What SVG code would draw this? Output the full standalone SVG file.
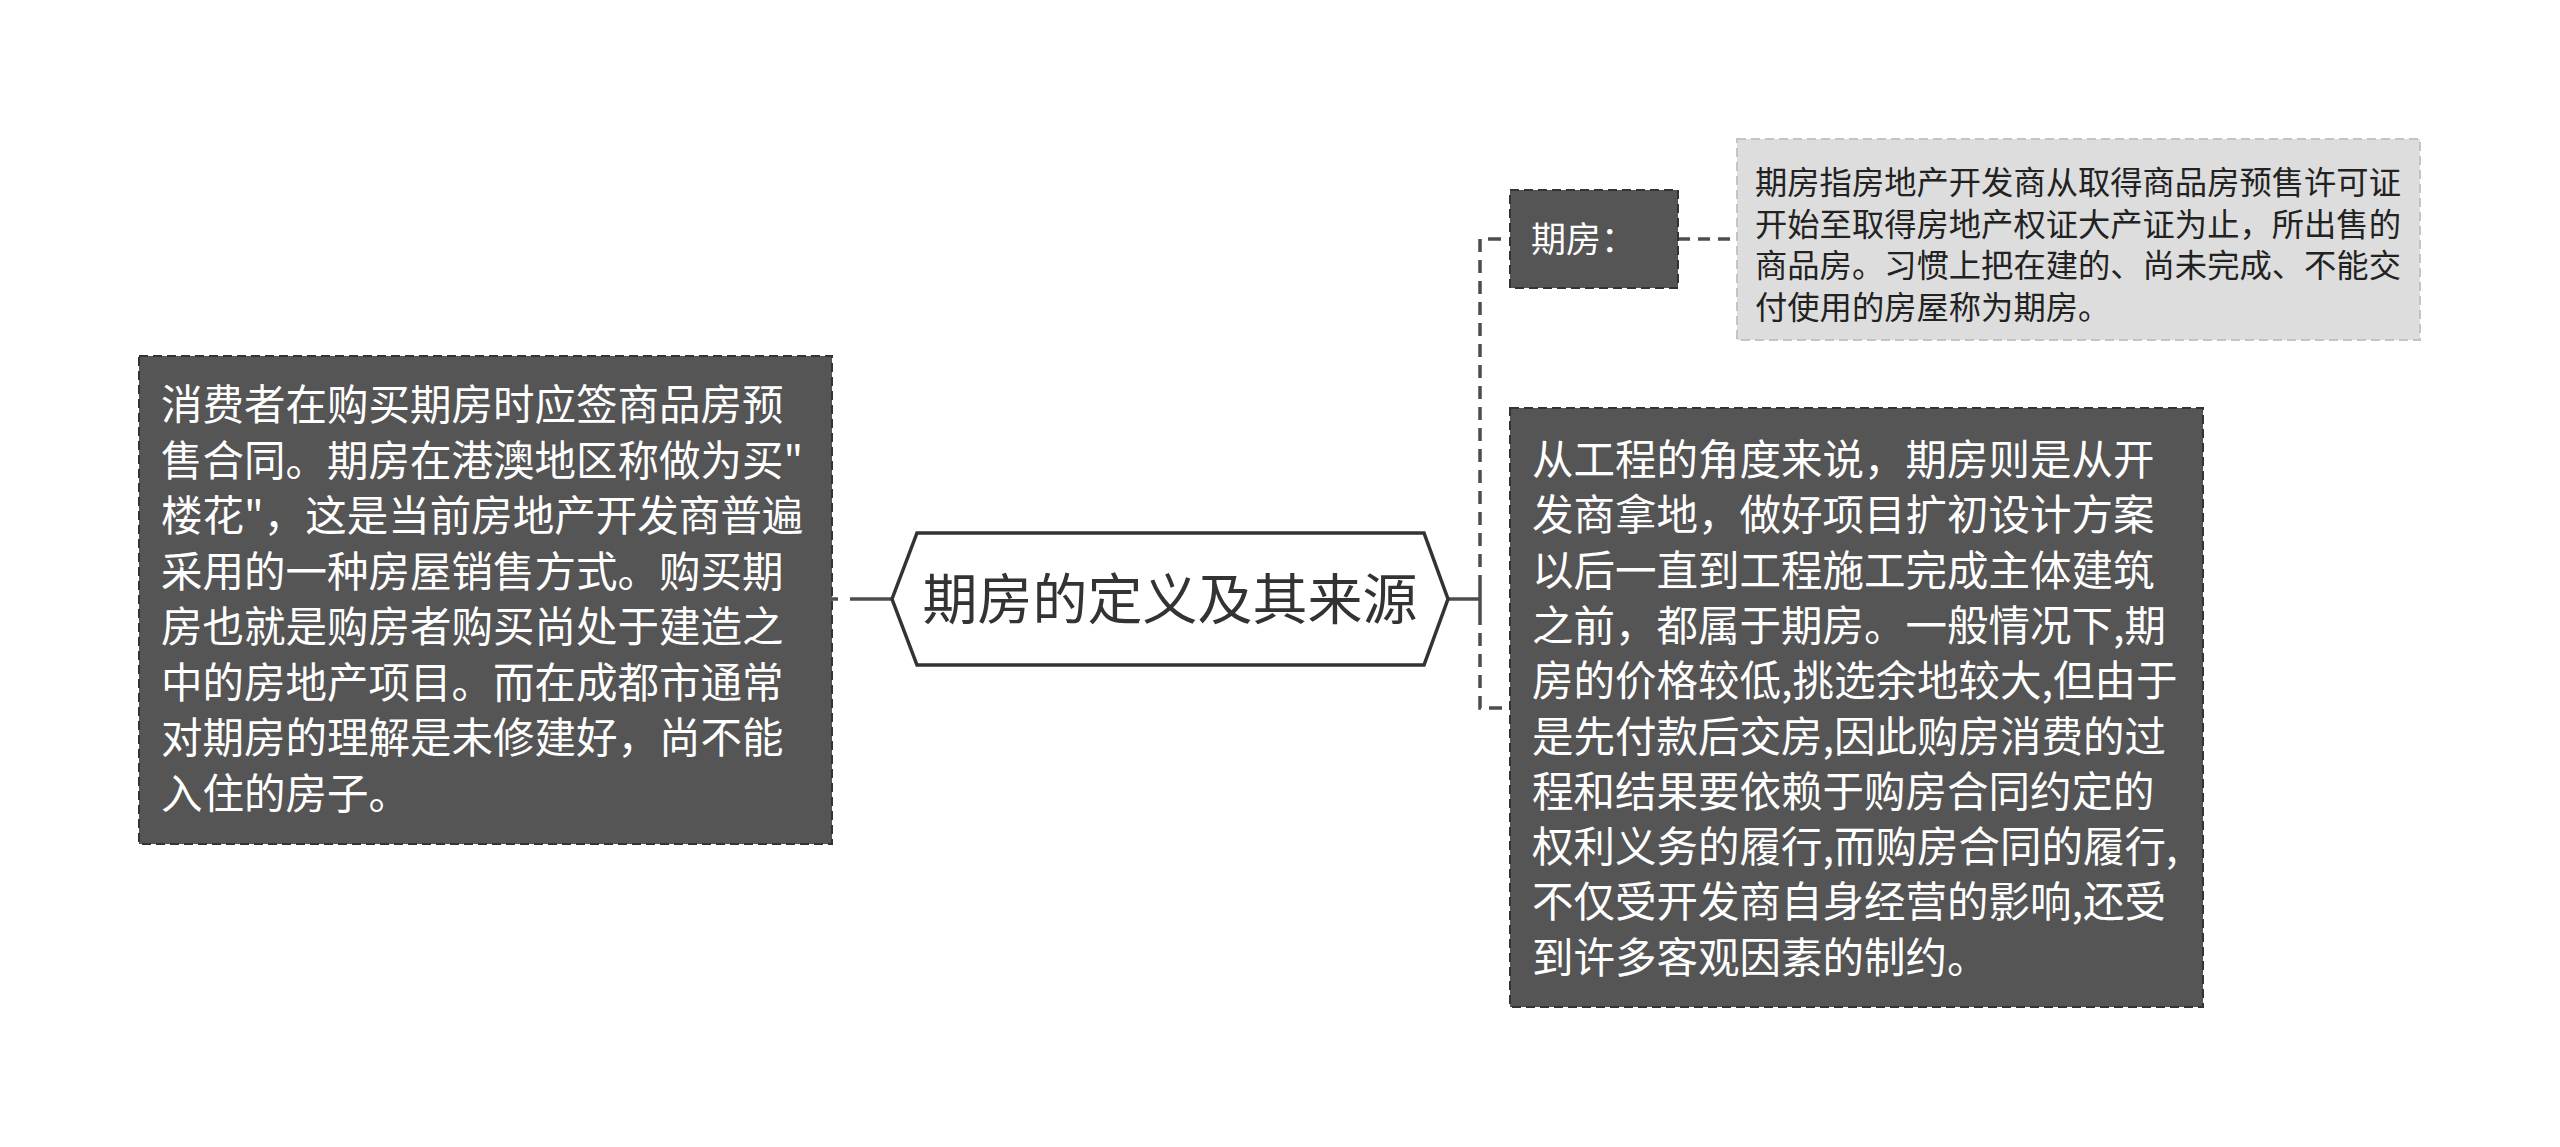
<svg xmlns="http://www.w3.org/2000/svg" width="2560" height="1147" viewBox="0 0 2560 1147">
<style>
.dark{fill:#555555;stroke:#333333;stroke-width:2;stroke-dasharray:9 5}
.light{fill:#dddddd;stroke:#c4c4c4;stroke-width:2;stroke-dasharray:9 5}
.wt{font-family:"Noto Sans CJK SC","Noto Sans",sans-serif;fill:#ffffff}
.bt{font-family:"Noto Sans CJK SC","Noto Sans",sans-serif;fill:#222222}
.conn{fill:none;stroke:#4d4d4d;stroke-width:3.5}
.dash{stroke-dasharray:13 8}
</style>
<rect width="2560" height="1147" fill="#ffffff"/>
<g id="connectors">
  <line class="conn" x1="832" y1="599" x2="838" y2="599"/>
  <line class="conn" x1="850" y1="599" x2="892" y2="599"/>
  <line class="conn" x1="1448" y1="599" x2="1480" y2="599"/>
  <line class="conn" x1="1480" y1="588" x2="1480" y2="612"/>
  <path class="conn dash" d="M1480,588 V239 H1510"/>
  <path class="conn dash" d="M1480,612 V708 H1510"/>
  <path class="conn" stroke-dasharray="12 8" d="M1678,239 H1737"/>
</g>
<g id="node-root">
  <polygon points="892,599 917,533 1424,533 1448,599 1424,665 917,665" fill="#ffffff" stroke="#333333" stroke-width="3.5"/>
  <text x="1170" y="619" text-anchor="middle" font-family="Noto Sans CJK SC, Noto Sans, sans-serif" font-size="55" fill="#333333">期房的定义及其来源</text>
</g>
<g id="node-left">
  <rect class="dark" x="139" y="356" width="693" height="488"/>
  <text class="wt" font-size="41.5">
    <tspan x="161" y="420">消费者在购买期房时应签商品房预</tspan>
    <tspan x="161" y="475.5">售合同。期房在港澳地区称做为买"</tspan>
    <tspan x="161" y="531">楼花"，这是当前房地产开发商普遍</tspan>
    <tspan x="161" y="586.5">采用的一种房屋销售方式。购买期</tspan>
    <tspan x="161" y="642">房也就是购房者购买尚处于建造之</tspan>
    <tspan x="161" y="697.5">中的房地产项目。而在成都市通常</tspan>
    <tspan x="161" y="753">对期房的理解是未修建好，尚不能</tspan>
    <tspan x="161" y="808.5">入住的房子。</tspan>
  </text>
</g>
<g id="node-qifang">
  <rect class="dark" x="1510" y="190" width="168" height="98"/>
  <text class="wt" x="1531" y="252" font-size="35">期房：</text>
</g>
<g id="node-definition">
  <rect class="light" x="1737" y="139" width="683" height="201"/>
  <text class="bt" font-size="32.3">
    <tspan x="1755" y="194">期房指房地产开发商从取得商品房预售许可证</tspan>
    <tspan x="1755" y="235.5">开始至取得房地产权证大产证为止，所出售的</tspan>
    <tspan x="1755" y="277">商品房。习惯上把在建的、尚未完成、不能交</tspan>
    <tspan x="1755" y="318.5">付使用的房屋称为期房。</tspan>
  </text>
</g>
<g id="node-right">
  <rect class="dark" x="1510" y="408" width="693" height="599"/>
  <text class="wt" font-size="41.5">
    <tspan x="1532" y="475">从工程的角度来说，期房则是从开</tspan>
    <tspan x="1532" y="530.3">发商拿地，做好项目扩初设计方案</tspan>
    <tspan x="1532" y="585.6">以后一直到工程施工完成主体建筑</tspan>
    <tspan x="1532" y="640.9">之前，都属于期房。一般情况下,期</tspan>
    <tspan x="1532" y="696.2">房的价格较低,挑选余地较大,但由于</tspan>
    <tspan x="1532" y="751.5">是先付款后交房,因此购房消费的过</tspan>
    <tspan x="1532" y="806.8">程和结果要依赖于购房合同约定的</tspan>
    <tspan x="1532" y="862.1">权利义务的履行,而购房合同的履行,</tspan>
    <tspan x="1532" y="917.4">不仅受开发商自身经营的影响,还受</tspan>
    <tspan x="1532" y="972.7">到许多客观因素的制约。</tspan>
  </text>
</g>
</svg>
